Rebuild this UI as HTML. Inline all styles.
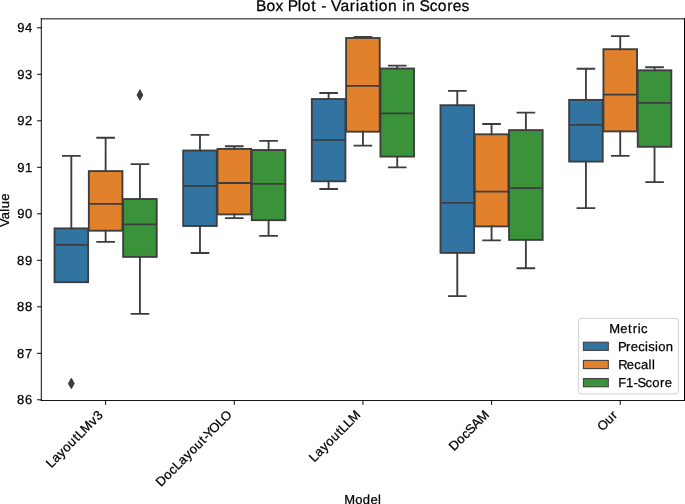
<!DOCTYPE html>
<html><head><meta charset="utf-8"><title>Box Plot - Variation in Scores</title><style>
html,body{margin:0;padding:0;background:#fff;}
body{width:685px;height:504px;overflow:hidden;}
svg{display:block;will-change:transform;}
text{font-family:"Liberation Sans", sans-serif;fill:#000;stroke:#000;stroke-width:0.25px;text-rendering:geometricPrecision;}
</style></head><body>
<svg width="685" height="504" viewBox="0 0 685 504">
<rect width="685" height="504" fill="#fff"/>
<text x="256.12 266.57 275.48 283.78 287.76 297.72 301.69 311.37 316.4 321.21 326.53 331.11 340.45 349.83 355.84 359.83 369.5 374.84 378.82 388.1 397.15 402.22 406.35 415.4 419.62 429.67 437.82 447.21 452.72 461.59" y="11.45" style="font-size:15.6px" >Box Plot - Variation in Scores</text>
<rect x="54.53" y="228.4" width="33.6" height="53.8" fill="#3274a1" stroke="#3d3d3d" stroke-width="1.85"/>
<rect x="88.83" y="171.1" width="33.6" height="59.6" fill="#e1812c" stroke="#3d3d3d" stroke-width="1.85"/>
<rect x="123.13" y="199" width="33.6" height="57.9" fill="#3a923a" stroke="#3d3d3d" stroke-width="1.85"/>
<rect x="183.18" y="150.5" width="33.6" height="75.5" fill="#3274a1" stroke="#3d3d3d" stroke-width="1.85"/>
<rect x="217.48" y="148.9" width="33.6" height="65.5" fill="#e1812c" stroke="#3d3d3d" stroke-width="1.85"/>
<rect x="251.78" y="150" width="33.6" height="70.2" fill="#3a923a" stroke="#3d3d3d" stroke-width="1.85"/>
<rect x="311.82" y="99" width="33.6" height="82.3" fill="#3274a1" stroke="#3d3d3d" stroke-width="1.85"/>
<rect x="346.12" y="38" width="33.6" height="93.7" fill="#e1812c" stroke="#3d3d3d" stroke-width="1.85"/>
<rect x="380.43" y="68.5" width="33.6" height="88.1" fill="#3a923a" stroke="#3d3d3d" stroke-width="1.85"/>
<rect x="440.48" y="105.2" width="33.6" height="147.7" fill="#3274a1" stroke="#3d3d3d" stroke-width="1.85"/>
<rect x="474.78" y="134.3" width="33.6" height="92.1" fill="#e1812c" stroke="#3d3d3d" stroke-width="1.85"/>
<rect x="509.07" y="130.1" width="33.6" height="109.8" fill="#3a923a" stroke="#3d3d3d" stroke-width="1.85"/>
<rect x="569.13" y="99.9" width="33.6" height="61.7" fill="#3274a1" stroke="#3d3d3d" stroke-width="1.85"/>
<rect x="603.43" y="49.2" width="33.6" height="82.2" fill="#e1812c" stroke="#3d3d3d" stroke-width="1.85"/>
<rect x="637.73" y="70.3" width="33.6" height="76.5" fill="#3a923a" stroke="#3d3d3d" stroke-width="1.85"/>
<path d="M71.33 228.4V155.9M62.93 155.9H79.73M105.62 230.7V241.8M97.22 241.8H114.03M105.62 171.1V137.7M97.22 137.7H114.03M139.93 256.9V313.8M131.53 313.8H148.33M139.93 199V164.1M131.53 164.1H148.33M199.98 226V253M191.58 253H208.38M199.98 150.5V134.9M191.58 134.9H208.38M234.28 214.4V218.1M225.88 218.1H242.68M234.28 148.9V146.2M225.88 146.2H242.68M268.58 220.2V235.8M260.18 235.8H276.98M268.58 150V140.9M260.18 140.9H276.98M328.62 181.3V189M320.23 189H337.02M328.62 99V93M320.23 93H337.02M362.93 131.7V145.6M354.53 145.6H371.32M362.93 38V36.9M354.53 36.9H371.32M397.23 156.6V167.3M388.83 167.3H405.62M397.23 68.5V65.6M388.83 65.6H405.62M457.28 252.9V296.1M448.88 296.1H465.68M457.28 105.2V90.8M448.88 90.8H465.68M491.58 226.4V240.4M483.18 240.4H499.98M491.58 134.3V124M483.18 124H499.98M525.88 239.9V268.2M517.48 268.2H534.27M525.88 130.1V112.6M517.48 112.6H534.27M585.93 161.6V208.1M577.53 208.1H594.33M585.93 99.9V68.7M577.53 68.7H594.33M620.23 131.4V155.9M611.83 155.9H628.62M620.23 49.2V36.1M611.83 36.1H628.62M654.52 146.8V182.1M646.12 182.1H662.92M654.52 70.3V67.2M646.12 67.2H662.92" stroke="#3d3d3d" stroke-width="1.85" stroke-linecap="square" fill="none"/>
<path d="M54.53 244.8H88.12M88.83 203.8H122.42M123.13 224.4H156.73M183.18 185.8H216.78M217.48 183H251.08M251.78 183.8H285.38M311.82 139.8H345.43M346.12 85.9H379.73M380.43 113.3H414.03M440.48 202.9H474.08M474.78 191.6H508.38M509.07 188.1H542.67M569.13 124.8H602.73M603.43 94.6H637.02M637.73 102.8H671.32" stroke="#3d3d3d" stroke-width="1.85" stroke-linecap="butt" fill="none"/>
<path d="M71.33 378.3L74.23 383.5L71.33 388.7L68.42 383.5ZM139.93 89.8L142.83 95L139.93 100.2L137.03 95Z" fill="#3d3d3d" stroke="#3d3d3d" stroke-width="1" stroke-linejoin="miter"/>
<path d="M41.3 18.36V401M40.81 18.85H685" stroke="#000" stroke-width="0.98" fill="none"/>
<path d="M40.81 400.5H685" stroke="#000" stroke-width="0.92" fill="none"/>
<path d="M684.5 18.36V401" stroke="#000" stroke-width="1" fill="none"/>
<text x="17.23 24.98" y="32.3" style="font-size:13px" >94</text>
<text x="17.23 24.98" y="78.8" style="font-size:13px" >93</text>
<text x="17.23 24.98" y="125.3" style="font-size:13px" >92</text>
<text x="17.23 24.98" y="171.8" style="font-size:13px" >91</text>
<text x="17.23 24.98" y="218.3" style="font-size:13px" >90</text>
<text x="17.11 24.98" y="264.8" style="font-size:13px" >89</text>
<text x="17.11 24.98" y="311.3" style="font-size:13px" >88</text>
<text x="17.11 24.98" y="357.8" style="font-size:13px" >87</text>
<text x="17.11 24.98" y="404.3" style="font-size:13px" >86</text>
<path d="M37.1 27.8H41.5M37.1 74.3H41.5M37.1 120.8H41.5M37.1 167.3H41.5M37.1 213.8H41.5M37.1 260.3H41.5M37.1 306.8H41.5M37.1 353.3H41.5M37.1 399.8H41.5M105.62 400.5V404.8M234.28 400.5V404.8M362.93 400.5V404.8M491.58 400.5V404.8M620.23 400.5V404.8" stroke="#000" stroke-width="0.98" fill="none"/>
<g transform="translate(103.83 415.8) rotate(-45)"><text x="-74.5 -67.28 -59.55 -52.54 -44.91 -36.83 -32.75 -25.8 -14.67 -7.52" y="0" style="font-size:13px" >LayoutLMv3</text></g>
<g transform="translate(232.48 415.8) rotate(-45)"><text x="-101 -91.39 -83.91 -77.48 -70.26 -62.52 -55.52 -47.88 -39.8 -35.48 -33.12 -26.01 -16.35 -9.88" y="0" style="font-size:13px" >DocLayout-YOLO</text></g>
<g transform="translate(361.12 415.8) rotate(-45)"><text x="-66.28 -59.06 -51.33 -44.32 -36.68 -28.61 -24.53 -17.65 -10.71" y="0" style="font-size:13px" >LayoutLLM</text></g>
<g transform="translate(489.78 415.8) rotate(-45)"><text x="-50.55 -40.94 -33.46 -27.27 -19.1 -10.71" y="0" style="font-size:13px" >DocSAM</text></g>
<g transform="translate(618.43 415.8) rotate(-45)"><text x="-22.65 -12.52 -4.69" y="0" style="font-size:13px" >Our</text></g>
<g transform="translate(8.9 210) rotate(-90)"><text x="-16.91 -9.25 -1.64 1.75 9.39" y="0" style="font-size:13px" >Value</text></g>
<text x="344.29 355.17 362.81 370.44 378.04" y="503.6" style="font-size:13px" >Model</text>
<rect x="578.6" y="318.4" width="99.8" height="75.5" rx="2.5" fill="#fff" fill-opacity="0.8" stroke="#cccccc" stroke-width="0.9"/>
<text x="609.25 620.16 628.1 632.74 637.76 641" y="332.5" style="font-size:13px" >Metric</text>
<rect x="583.4" y="342.2" width="24.9" height="8.2" fill="#3274a1" stroke="#3d3d3d" stroke-width="1.05"/>
<text x="617.96 626.08 630.76 638.22 645.11 648.17 654.98 658.24 665.87" y="350.5" style="font-size:13px" >Precision</text>
<rect x="583.4" y="360.4" width="24.9" height="8.2" fill="#e1812c" stroke="#3d3d3d" stroke-width="1.05"/>
<text x="618.17 626.76 634.22 640.99 648.61 651.98" y="368.7" style="font-size:13px" >Recall</text>
<rect x="583.4" y="378.6" width="24.9" height="8.2" fill="#3a923a" stroke="#3d3d3d" stroke-width="1.05"/>
<text x="618.16 625.89 633.4 637.41 645.6 652.36 660.08 664.76" y="386.9" style="font-size:13px" >F1-Score</text>
</svg>
</body></html>
